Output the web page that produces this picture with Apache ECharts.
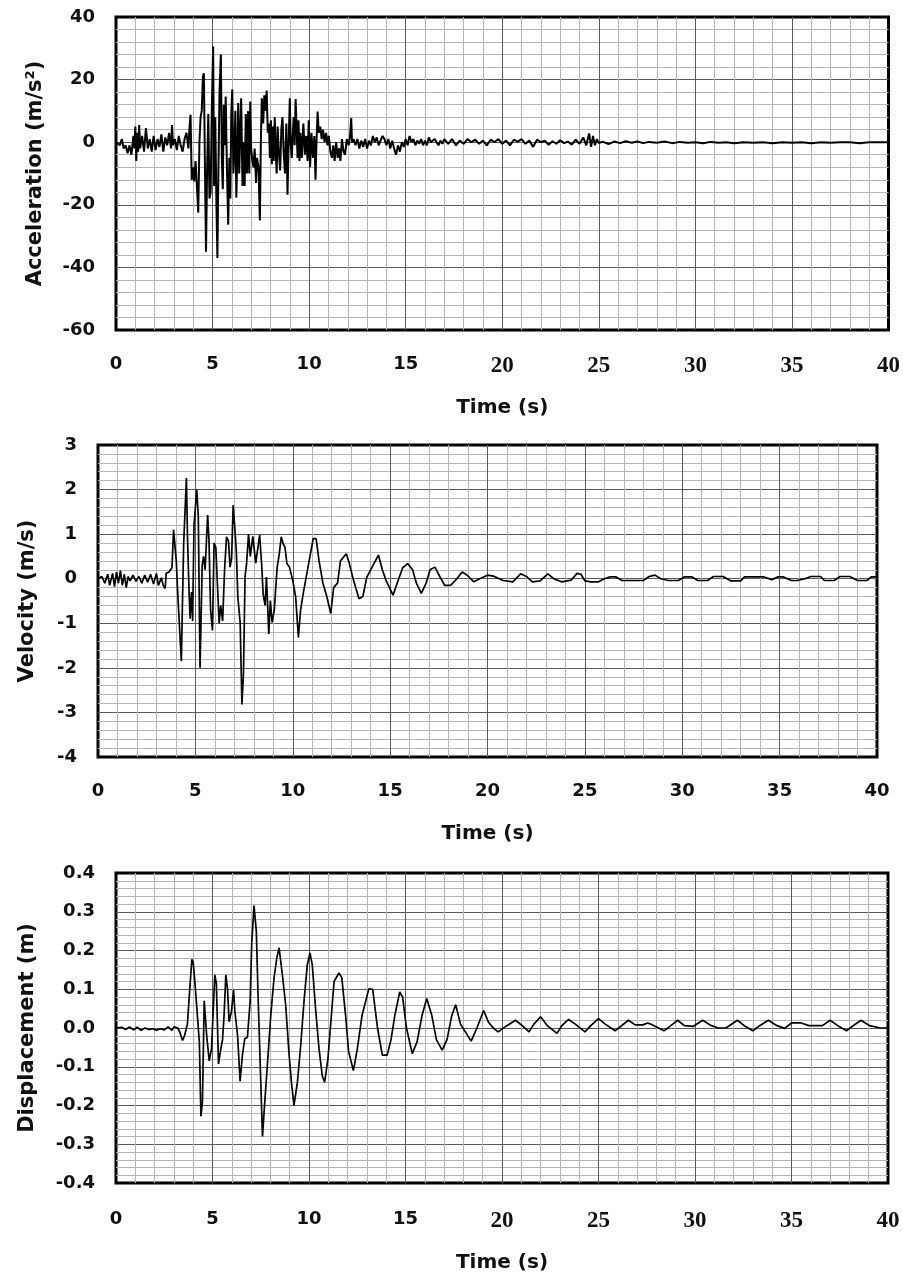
<!DOCTYPE html>
<html>
<head>
<meta charset="utf-8">
<script src="https://cdn.jsdelivr.net/npm/echarts@6/dist/echarts.min.js"></script>
<style>
html,body{margin:0;padding:0;background:#fff;}
#chart{width:903px;height:1279px;}
</style>
</head>
<body>
<div id="chart"></div>
<script>
// ---------------- DATA ----------------
const xTickValues = [0, 5, 10, 15, 20, 25, 30, 35, 40];
const xTitle = 'Time (s)';
const accTitle = 'Acceleration (m/s\u00B2)';
const velTitle = 'Velocity (m/s)';
const dispTitle = 'Displacement (m)';

const accTime = [0,0.1,0.2,0.3,0.4,0.5,0.6,0.7,0.8,0.9,0.95,1.0,1.05,1.1,1.15,1.2,1.25,1.35,1.45,1.55,1.65,1.75,1.85,1.95,2.05,2.15,2.25,2.35,2.45,2.55,2.65,2.75,2.85,2.9,2.95,3.05,3.15,3.25,3.35,3.45,3.55,3.65,3.75,3.8,3.86,3.92,4.0,4.05,4.12,4.18,4.26,4.32,4.38,4.44,4.5,4.55,4.6,4.66,4.72,4.78,4.84,4.9,4.96,5.03,5.08,5.14,5.2,5.25,5.3,5.36,5.43,5.48,5.53,5.58,5.63,5.68,5.75,5.81,5.87,5.92,5.97,6.02,6.08,6.13,6.18,6.23,6.28,6.33,6.38,6.43,6.48,6.55,6.6,6.66,6.72,6.78,6.84,6.9,6.95,7.0,7.06,7.12,7.18,7.25,7.3,7.38,7.45,7.5,7.55,7.62,7.68,7.75,7.8,7.86,7.92,7.97,8.02,8.07,8.12,8.17,8.22,8.27,8.32,8.37,8.42,8.5,8.56,8.62,8.68,8.75,8.82,8.88,8.94,9.0,9.05,9.1,9.15,9.2,9.25,9.3,9.35,9.4,9.45,9.5,9.55,9.62,9.7,9.78,9.85,9.92,9.98,10.05,10.12,10.2,10.27,10.33,10.38,10.44,10.5,10.58,10.65,10.72,10.8,10.88,10.95,11.02,11.1,11.18,11.25,11.32,11.4,11.48,11.55,11.62,11.7,11.78,11.86,11.95,12.05,12.12,12.18,12.22,12.3,12.4,12.5,12.6,12.7,12.8,12.9,13.0,13.1,13.2,13.3,13.4,13.5,13.6,13.7,13.8,13.9,14.0,14.1,14.2,14.3,14.4,14.5,14.6,14.7,14.8,14.9,15.0,15.1,15.2,15.3,15.4,15.5,15.6,15.7,15.8,15.9,16.0,16.1,16.2,16.3,16.4,16.5,16.6,16.7,16.8,16.9,17.0,17.2,17.4,17.6,17.8,18.0,18.2,18.4,18.6,18.8,19.0,19.2,19.4,19.6,19.8,20.0,20.2,20.4,20.6,20.8,21.0,21.2,21.4,21.6,21.8,22.0,22.2,22.4,22.6,22.8,23.0,23.2,23.4,23.6,23.8,24.0,24.2,24.35,24.5,24.6,24.7,24.8,24.9,25.0,25.2,25.5,25.8,26.1,26.4,26.7,27.0,27.3,27.6,28.0,28.4,28.8,29.2,29.6,30.0,30.4,30.8,31.2,31.6,32.0,32.5,33.0,33.5,34.0,34.5,35.0,35.5,36.0,36.5,37.0,37.5,38.0,38.5,39.0,39.5,40.0];
const accValue = [0,0.5,-1,1,-2,-1,-3.5,-1,-4,2,-2,5,-6,3,-3,5.5,-2,2,-3,4.5,-2,1,-3,2,-2.5,1,-1.5,2.5,-3,1.5,-1,3,-2,5.5,-1,1,-2.5,2,-1,-3,1,3,-2,4,8.8,-12,-8,-12.5,-6,-13,-22.5,0,8,10,21,22,-5,-35,-8,9,-18,-16,10,30.6,-14,8,-20,-37,-10,16,28,-5,-15,12,-1,14.6,-10,-26.4,-5,-18,9,16.8,-10,-2,10,-17.7,-5,12.5,-10,2,14,-14,0,-14,9,-10,10,-10,13,-2,-6,-8,-2,-13,-5,-8,-25,0,14,6,15,10,16.5,3,6,-5,7,-7,5,-6,8,-3,-10,5,-2,-9,4,8,-3,-10,6,-16.8,0,14,-1,-5,2,8,-1,13.8,5,-5,7,-6,3,-5,6,-4,2,-6,7,-8,3,-5,2,-12,0,9.8,3,5,1,4,0,3,-1,2,-3,-5,-1,-6,0,-5,-2,-6,1,-3,-4,1,-1,2,7.7,0,1,-1,1,-2,0.5,-1.5,1,-2,0.5,-1,2,0,1.5,-1,0.5,2,1,-1,1,-2,0.5,-2,-4,-1,-3,0,-1.5,1,-1,2,0,1,-1,0.5,-0.5,1,-1,0.5,-1,1.5,0,-0.5,1,0,-1,0.5,-0.5,1,-0.5,1,-1,0.5,-0.5,1,0,0.8,-0.5,0.5,-1,0.8,0,1,-0.5,0.5,-1,0.8,0.2,1,-0.5,0.5,-1.5,0.8,0,0.5,-0.8,0.3,-0.5,0.6,-0.3,0.2,-0.8,0.8,-0.5,1.5,-1,2.8,-1.5,2,-1,1,-0.3,0.2,-0.6,0.2,-0.3,0.3,-0.2,0.2,-0.3,0.1,-0.2,0.2,-0.3,0.1,-0.2,0,-0.3,0.1,-0.2,0,-0.3,0,-0.2,0,-0.3,0,-0.2,0,-0.3,0,-0.2,0,0,-0.3,0,0,0];

const velTime = [0,0.2,0.35,0.5,0.6,0.75,0.85,0.95,1.05,1.15,1.25,1.35,1.45,1.55,1.65,1.8,1.95,2.1,2.25,2.4,2.55,2.7,2.85,3.0,3.1,3.25,3.35,3.45,3.5,3.65,3.8,3.88,3.95,4.02,4.1,4.2,4.28,4.33,4.4,4.54,4.6,4.68,4.73,4.8,4.86,4.93,5.07,5.15,5.24,5.35,5.42,5.5,5.63,5.7,5.78,5.88,5.96,6.05,6.14,6.22,6.3,6.4,6.5,6.6,6.7,6.78,6.86,6.94,7.02,7.1,7.18,7.3,7.39,7.47,7.55,7.63,7.73,7.82,7.95,8.1,8.3,8.4,8.48,8.58,8.65,8.77,8.85,8.94,9.05,9.2,9.3,9.41,9.5,9.6,9.7,9.83,10.0,10.15,10.29,10.4,10.55,10.8,11.05,11.2,11.35,11.55,11.75,11.95,12.1,12.3,12.45,12.75,12.9,13.1,13.4,13.6,13.8,14.0,14.4,14.6,14.8,15.15,15.4,15.65,15.9,16.15,16.35,16.6,16.85,17.05,17.3,17.55,17.8,18.1,18.35,18.7,18.95,19.3,19.6,20.0,20.3,20.8,21.3,21.7,22.0,22.3,22.7,23.1,23.4,23.8,24.3,24.6,24.8,25.0,25.3,25.7,26.0,26.3,26.6,26.9,27.5,28.0,28.3,28.6,28.9,29.3,29.8,30.1,30.5,30.8,31.3,31.6,32.1,32.5,33.0,33.2,33.7,34.2,34.6,34.9,35.2,35.6,35.9,36.3,36.6,37.1,37.3,37.8,38.1,38.6,39.0,39.5,39.7,40.0];
const velValue = [0,0.05,-0.1,0.1,-0.15,0.12,-0.18,0.15,-0.1,0.18,-0.15,0.1,-0.2,0.05,-0.05,0.08,-0.06,0.05,-0.1,0.08,-0.08,0.1,-0.12,0.12,-0.15,0.02,-0.15,-0.22,0.12,0.15,0.25,1.1,1.13,0.4,-0.38,-1.2,-1.85,-0.7,0.8,2.26,0.85,-0.35,-0.9,-0.3,-0.95,1.2,2.0,1.4,-2.0,0.3,0.5,0.2,1.43,0.85,-0.7,-1.16,0.8,0.7,-0.2,-1.0,-0.6,-0.95,0.2,0.94,0.85,0.26,0.45,1.65,1.17,0.64,-0.41,-0.98,-2.82,-2.13,0.04,0.34,1.0,0.5,0.95,0.35,0.98,0.34,-0.34,-0.6,0.04,-1.24,-0.49,-0.98,-0.71,0.26,0.53,0.94,0.79,0.71,0.34,0.26,-0.04,-0.41,-1.32,-0.71,-0.3,0.3,0.9,0.9,0.4,-0.1,-0.4,-0.78,-0.2,-0.1,0.4,0.56,0.35,0.0,-0.45,-0.4,0.03,0.2,0.53,0.2,-0.05,-0.37,-0.05,0.25,0.34,0.2,-0.1,-0.33,-0.1,0.2,0.26,0.05,-0.15,-0.15,-0.04,0.15,0.08,-0.07,0.0,0.08,0.06,-0.04,-0.07,0.11,0.05,-0.07,-0.05,0.11,0.0,-0.07,-0.03,0.12,0.1,-0.05,-0.07,-0.07,0.0,0.04,0.04,-0.04,-0.04,-0.04,0.05,0.08,0.0,-0.04,-0.04,0.04,0.04,-0.04,-0.04,0.05,0.05,-0.05,-0.05,0.04,0.04,0.04,-0.02,0.04,0.04,-0.04,-0.04,0.0,0.05,0.05,-0.04,-0.04,0.05,0.05,-0.04,-0.04,0.04,0.04];

const dispTime = [0,0.3,0.5,0.7,0.9,1.1,1.3,1.5,1.7,1.9,2.1,2.3,2.5,2.7,2.9,3.0,3.2,3.3,3.45,3.55,3.7,3.78,3.93,4.0,4.1,4.22,4.32,4.4,4.48,4.57,4.62,4.7,4.83,4.95,5.05,5.12,5.2,5.31,5.43,5.52,5.6,5.69,5.78,5.86,5.98,6.09,6.16,6.3,6.43,6.55,6.67,6.81,6.95,7.03,7.15,7.27,7.36,7.47,7.59,7.71,7.85,8.02,8.19,8.33,8.45,8.62,8.79,8.97,9.09,9.22,9.4,9.57,9.74,9.91,10.05,10.17,10.34,10.52,10.69,10.81,10.98,11.16,11.3,11.55,11.7,11.9,12.05,12.3,12.5,12.75,13.1,13.3,13.55,13.8,14.05,14.25,14.45,14.7,14.85,15.05,15.35,15.6,15.86,16.1,16.36,16.6,16.9,17.15,17.4,17.6,17.85,18.1,18.4,18.7,19.05,19.3,19.55,19.8,20.25,20.7,21.05,21.4,21.65,22.0,22.35,22.85,23.1,23.45,23.8,24.3,24.6,25.0,25.35,25.86,26.2,26.55,26.9,27.3,27.55,27.8,28.4,28.75,29.1,29.45,29.9,30.4,30.85,31.2,31.6,32.2,32.55,33.0,33.35,33.8,34.25,34.65,35.0,35.5,35.9,36.6,37.0,37.4,37.85,38.2,38.6,39.05,39.6,40.0];
const dispValue = [0,0.002,-0.004,0.003,-0.005,0.002,-0.006,0.0,-0.004,-0.002,-0.006,-0.002,-0.005,0.003,-0.006,0.003,0.0,-0.01,-0.032,-0.02,0.01,0.07,0.177,0.17,0.11,0.03,-0.037,-0.228,-0.19,0.07,0.07,-0.02,-0.085,-0.054,0.06,0.137,0.115,-0.093,-0.054,-0.03,0.033,0.137,0.1,0.016,0.042,0.098,0.042,-0.02,-0.137,-0.07,-0.028,-0.024,0.068,0.216,0.316,0.25,0.085,-0.09,-0.28,-0.19,-0.09,0.033,0.13,0.18,0.207,0.138,0.06,-0.07,-0.14,-0.2,-0.14,-0.045,0.068,0.163,0.194,0.163,0.05,-0.054,-0.124,-0.14,-0.08,0.033,0.12,0.142,0.13,0.03,-0.06,-0.11,-0.055,0.033,0.101,0.1,0.0,-0.07,-0.07,-0.03,0.033,0.093,0.08,0.0,-0.066,-0.036,0.033,0.076,0.033,-0.03,-0.057,-0.03,0.033,0.06,0.01,-0.01,-0.034,0.0,0.045,0.015,0.0,-0.01,0.006,0.02,0.006,-0.01,0.01,0.029,0.006,-0.014,0.006,0.022,0.01,-0.01,0.006,0.024,0.01,-0.007,0.006,0.02,0.008,0.008,0.013,0.008,-0.007,0.006,0.02,0.006,0.004,0.02,0.006,0.0,0.0,0.02,0.006,-0.007,0.006,0.02,0.006,-0.001,0.013,0.013,0.006,0.006,0.02,0.006,-0.007,0.006,0.02,0.006,0.0,0.0];

// ---------------- CHART ----------------
function pairs(t, v) { return t.map((x, i) => [x, v[i]]); }

const SANS = 'DejaVu Sans';
const SERIF = 'Liberation Serif';
const INK = '#111';

function xAxisFor(gridIndex, nameGap, labelMargin, serifRight) {
  return {
    type: 'value', gridIndex, min: 0, max: 40, interval: 5,
    name: xTitle, nameLocation: 'middle', nameGap,
    nameTextStyle: { fontFamily: SANS, fontWeight: 'bold', fontSize: 20, color: INK },
    axisLine: { show: false }, axisTick: { show: false },
    axisLabel: {
      margin: labelMargin, color: INK,
      formatter: v => (serifRight && v >= 20) ? '{s|' + v + '}' : '{n|' + v + '}',
      rich: {
        n: { fontFamily: SANS, fontWeight: 'bold', fontSize: 18, color: INK },
        s: { fontFamily: SERIF, fontWeight: 'bold', fontSize: 23, color: INK }
      }
    },
    splitLine: { show: true, showMinLine: false, showMaxLine: false, lineStyle: { color: '#5a5a5a', width: 1 } },
    minorTick: { show: false, splitNumber: 5 },
    minorSplitLine: { show: true, lineStyle: { color: '#b4b4b4', width: 1 } }
  };
}

function yAxisFor(gridIndex, name, nameGap, min, max, interval, fmt) {
  return {
    type: 'value', gridIndex, min, max, interval,
    name, nameLocation: 'middle', nameGap, nameRotate: 90,
    nameTextStyle: { fontFamily: SANS, fontWeight: 'bold', fontSize: 21, color: INK },
    axisLine: { show: false }, axisTick: { show: false },
    axisLabel: { margin: 21, fontFamily: SANS, fontWeight: 'bold', fontSize: 18, color: INK, formatter: fmt },
    splitLine: { show: true, showMinLine: false, showMaxLine: false, lineStyle: { color: '#5a5a5a', width: 1 } },
    minorTick: { show: false, splitNumber: 5 },
    minorSplitLine: { show: true, lineStyle: { color: '#b4b4b4', width: 1 } }
  };
}

const gridStyle = { show: true, borderColor: '#000', borderWidth: 3, backgroundColor: '#fff' };

const option = {
  animation: false,
  backgroundColor: '#fff',
  grid: [
    Object.assign({ left: 116, top: 17, width: 773, height: 313 }, gridStyle),
    Object.assign({ left: 98, top: 445, width: 779, height: 312 }, gridStyle),
    Object.assign({ left: 116, top: 873, width: 772, height: 310 }, gridStyle)
  ],
  xAxis: [
    xAxisFor(0, 68, 25, true),
    xAxisFor(1, 67, 25, false),
    xAxisFor(2, 70, 27, true)
  ],
  yAxis: [
    yAxisFor(0, accTitle, 70, -60, 40, 20, v => String(Math.round(v))),
    yAxisFor(1, velTitle, 60, -4, 3, 1, v => String(Math.round(v))),
    yAxisFor(2, dispTitle, 78, -0.4, 0.4, 0.1, v => (Math.round(v * 10) / 10).toFixed(1))
  ],
  series: [
    { type: 'line', xAxisIndex: 0, yAxisIndex: 0, data: pairs(accTime, accValue), showSymbol: false, symbol: 'none', lineStyle: { color: '#000', width: 2 }, z: 5 },
    { type: 'line', xAxisIndex: 1, yAxisIndex: 1, data: pairs(velTime, velValue), showSymbol: false, symbol: 'none', lineStyle: { color: '#000', width: 1.7 }, z: 5 },
    { type: 'line', xAxisIndex: 2, yAxisIndex: 2, data: pairs(dispTime, dispValue), showSymbol: false, symbol: 'none', lineStyle: { color: '#000', width: 1.7 }, z: 5 }
  ]
};

const chart = echarts.init(document.getElementById('chart'), null, { renderer: 'canvas' });
chart.setOption(option);
</script>
</body>
</html>
